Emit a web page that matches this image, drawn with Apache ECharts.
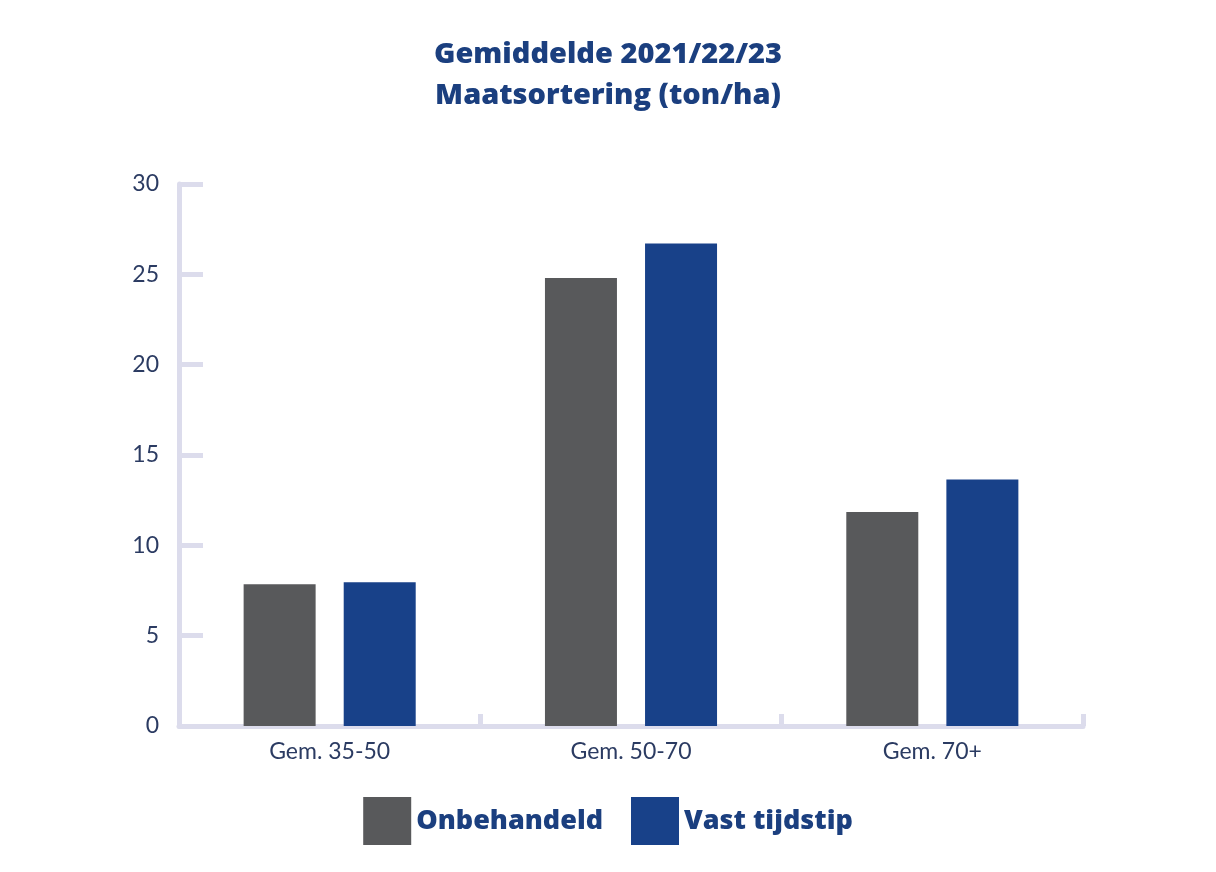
<!DOCTYPE html>
<html>
<head>
<meta charset="utf-8">
<script src="https://cdn.jsdelivr.net/npm/echarts@6/dist/echarts.min.js"></script>
<style>html,body{margin:0;padding:0;background:#fff}#c{width:1216px;height:872px}</style>
</head>
<body>
<div id="c"></div>
<script>
const categories = ['Gem. 35-50', 'Gem. 50-70', 'Gem. 70+'];
const seriesNames = ['Onbehandeld', 'Vast tijdstip'];
const onbehandeld = [7.85, 24.8, 11.85];
const vastTijdstip = [7.95, 26.7, 13.65];
const yTicks = [0, 5, 10, 15, 20, 25, 30];

const chart = echarts.init(document.getElementById('c'));
const axisColor = '#dcdcec';
const labelColor = '#2b3b62';
chart.setOption({
  animation: false,
  title: {
    text: 'Gemiddelde 2021/22/23\nMaatsortering (ton/ha)',
    left: 'center',
    top: 29,
    textStyle: { fontFamily: 'Open Sans', fontWeight: 800, fontSize: 29, lineHeight: 41, color: '#1b3f7f' }
  },
  legend: {
    data: seriesNames,
    left: 'center',
    top: 792,
    itemWidth: 48,
    itemHeight: 48,
    itemGap: 28,
    icon: 'rect',
    textStyle: { fontFamily: 'Open Sans', fontWeight: 800, fontSize: 27, color: '#1b3f7f' }
  },
  grid: { left: 179, right: 133, top: 184, bottom: 146 },
  xAxis: {
    type: 'category',
    data: categories,
    axisLine: { lineStyle: { color: axisColor, width: 5 } },
    axisTick: { show: true, inside: true, length: 12, lineStyle: { color: axisColor, width: 5 } },
    axisLabel: { fontFamily: 'Lato', fontSize: 23, color: labelColor, margin: 14 },
    z: 1
  },
  yAxis: {
    type: 'value',
    min: yTicks[0],
    max: yTicks[yTicks.length - 1],
    interval: 5,
    axisLine: { show: true, lineStyle: { color: axisColor, width: 5 } },
    axisTick: { show: true, inside: true, length: 24, lineStyle: { color: axisColor, width: 5 } },
    splitLine: { show: false },
    axisLabel: { fontFamily: 'Lato', fontSize: 23, color: labelColor, margin: 20 }
  },
  series: [
    { name: seriesNames[0], type: 'bar', data: onbehandeld, barWidth: 72, barGap: '39%', itemStyle: { color: '#58595b' }, z: 3 },
    { name: seriesNames[1], type: 'bar', data: vastTijdstip, barWidth: 72, barGap: '39%', itemStyle: { color: '#184189' }, z: 3 }
  ]
});
</script>
</body>
</html>
